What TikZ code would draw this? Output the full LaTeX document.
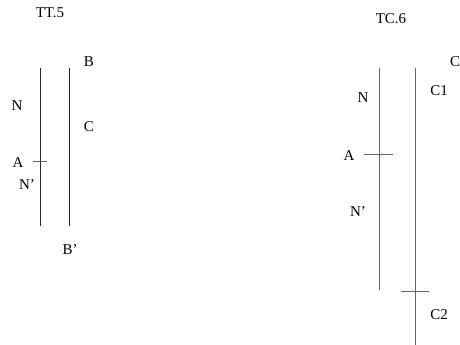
\documentclass[tikz,border=0pt]{standalone}
\usepackage{fontspec}
\setmainfont{Liberation Serif}
\begin{document}
\begin{tikzpicture}[x=1pt,y=-1pt,
  lbl/.style={inner sep=0pt,font=\fontsize{15}{15}\selectfont},
  darkline/.style={line width=1pt,black!85},
  greyline/.style={line width=1pt,black!60}]
\useasboundingbox (0,0) rectangle (460,345);
% left figure
\node[lbl] (tt5) at (50,13) {TT.5};
\coordinate (n1t) at (40,68);  \coordinate (n1b) at (40,226);
\coordinate (b1t) at (69,68);  \coordinate (b1b) at (69,226);
\draw[darkline] (n1t) -- (n1b);
\draw[darkline] (b1t) -- (b1b);
\coordinate (a1l) at (33,161); \coordinate (a1r) at (47,161);
\draw[greyline] (a1l) -- (a1r);
\node[lbl] (lB) at (89,62) {B};
\node[lbl] (lN) at (17,106) {N};
\node[lbl] (lC) at (89,127) {C};
\node[lbl] (lA) at (18,163) {A};
\node[lbl] (lNp) at (27,185) {N'};
\node[lbl] (lBp) at (70,250) {B'};
% right figure
\node[lbl] (tc6) at (391,19) {TC.6};
\coordinate (n2t) at (379.5,68); \coordinate (n2b) at (379.5,290);
\coordinate (c2t) at (415,68);   \coordinate (c2b) at (415,345);
\draw[greyline] (n2t) -- (n2b);
\draw[greyline] (c2t) -- (c2b);
\coordinate (a2l) at (364,154); \coordinate (a2r) at (393,154);
\draw[greyline] (a2l) -- (a2r);
\coordinate (k2l) at (401,291); \coordinate (k2r) at (429,291);
\draw[greyline] (k2l) -- (k2r);
\node[lbl,anchor=west] (rC) at (450,62) {C};
\node[lbl] (rC1) at (439,91) {C1};
\node[lbl] (rN) at (363,98) {N};
\node[lbl] (rA) at (349,156) {A};
\node[lbl] (rNp) at (358,212) {N'};
\node[lbl] (rC2) at (439,315) {C2};
\end{tikzpicture}
\end{document}
